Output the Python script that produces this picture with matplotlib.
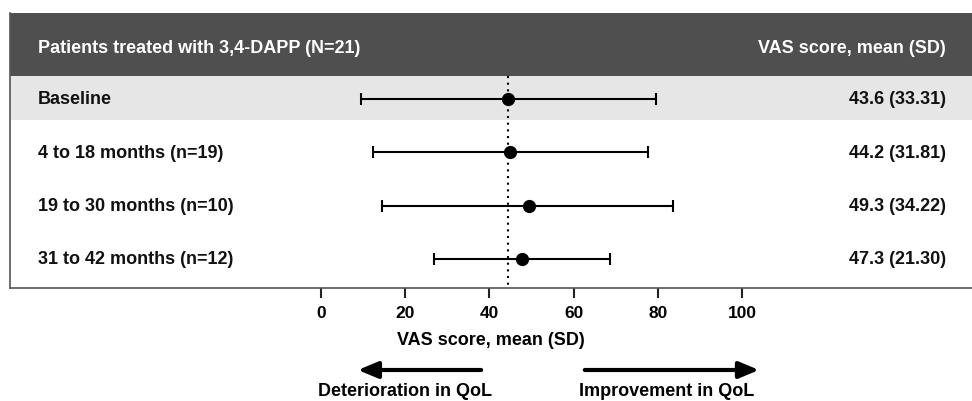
import matplotlib.pyplot as plt

# row labels and values
labels = ["Baseline", "4 to 18 months (n=19)", "19 to 30 months (n=10)", "31 to 42 months (n=12)"]
value_text = ["43.6 (33.31)", "44.2 (31.81)", "49.3 (34.22)", "47.3 (21.30)"]
means = [44.5, 45.0, 49.3, 47.8]
lower = [9.5, 12.4, 14.6, 26.9]
upper = [79.6, 77.6, 83.7, 68.7]
ref_line = 44.5
xticks = [0, 20, 40, 60, 80, 100]

header_left = "Patients treated with 3,4-DAPP (N=21)"
header_right = "VAS score, mean (SD)"
xlabel = "VAS score, mean (SD)"

plt.rcParams['font.family'] = ['Liberation Sans', 'DejaVu Sans']
plt.rcParams['font.weight'] = 'bold'

W, H = 972, 402
fig = plt.figure(figsize=(W / 100, H / 100), dpi=100)
# axes box: x from 10px to right edge, y from 14px to 289px
ax = fig.add_axes([10 / W, 1 - 289 / H, 1 - 10 / W, (289 - 14) / H])

px_per_unit = (742 - 321) / 100.0
ax.set_xlim((10 - 321) / px_per_unit, (972 - 321) / px_per_unit)
step = 53.3
ax.set_ylim((289 - 100) / step, (14 - 100) / step)

# background bands
ax.axhspan((14 - 100) / step, (77 - 100) / step, color='#4f4f4f', lw=0, zorder=0)
ax.axhspan((77 - 100) / step, (121 - 100) / step, color='#e6e6e6', lw=0, zorder=0)

ypos = list(range(len(labels)))
xerr = [[m - lo for m, lo in zip(means, lower)], [hi - m for m, hi in zip(means, upper)]]
ax.errorbar(means, ypos, xerr=xerr, fmt='o', color='black', ms=8.5,
            elinewidth=1.5, capsize=4, capthick=1.5, zorder=3)

ax.plot([ref_line, ref_line], [(77 - 100) / step, (289 - 100) / step],
        color='black', ls=(0, (1, 2.2)), lw=1.5, zorder=2)

trans = ax.get_yaxis_transform()
fs = 13
ax.text(0.029, -0.97, header_left, transform=trans, color='white', fontsize=fs,
        fontweight='bold', va='center', ha='left')
ax.text(0.973, -0.97, header_right, transform=trans, color='white', fontsize=fs,
        fontweight='bold', va='center', ha='right')
for y, lab, vt in zip(ypos, labels, value_text):
    ax.text(0.029, y, lab, transform=trans, color='#111111', fontsize=fs,
            fontweight='bold', va='center', ha='left')
    ax.text(0.973, y, vt, transform=trans, color='#111111', fontsize=fs,
            fontweight='bold', va='center', ha='right')

for s in ['top', 'right']:
    ax.spines[s].set_visible(False)
for s in ['left', 'bottom']:
    ax.spines[s].set_color('#555555')
    ax.spines[s].set_linewidth(1.2)
ax.set_yticks([])
ax.set_xticks(xticks)
ax.set_xticklabels([str(t) for t in xticks], fontsize=12.5, fontweight='bold')
ax.tick_params(axis='x', length=7, width=1.5, color='#222222', pad=5)
ax.set_xlabel(xlabel, fontsize=13, fontweight='bold', labelpad=8)

# arrows below the axis
ay = 1 - 371 / H
ax.annotate('', xy=(8.1, ay), xytext=(38.7, ay), xycoords=('data', 'figure fraction'),
            textcoords=('data', 'figure fraction'),
            arrowprops=dict(arrowstyle='-|>,head_length=1.2,head_width=0.5', color='black', lw=3))
ax.annotate('', xy=(104.7, ay), xytext=(62.0, ay), xycoords=('data', 'figure fraction'),
            textcoords=('data', 'figure fraction'),
            arrowprops=dict(arrowstyle='-|>,head_length=1.2,head_width=0.5', color='black', lw=3))
ty = 1 - 383 / H
ax.annotate('Deterioration in QoL', xy=(20, ty), xycoords=('data', 'figure fraction'),
            ha='center', va='top', fontsize=13, fontweight='bold', annotation_clip=False)
ax.annotate('Improvement in QoL', xy=(82, ty), xycoords=('data', 'figure fraction'),
            ha='center', va='top', fontsize=13, fontweight='bold', annotation_clip=False)

fig.savefig('out.png', dpi=100)
